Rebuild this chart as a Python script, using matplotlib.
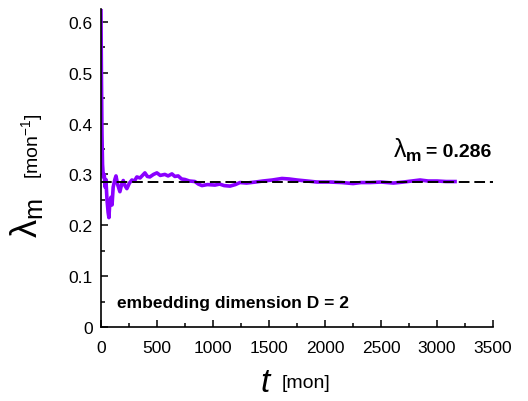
import numpy as np
import matplotlib
matplotlib.use('Agg')
import matplotlib.pyplot as plt
from matplotlib.ticker import MultipleLocator

plt.rc('font', family='Liberation Sans', size=12)
matplotlib.rcParams['mathtext.fontset'] = 'custom'
matplotlib.rcParams['mathtext.rm'] = 'Liberation Sans'
matplotlib.rcParams['mathtext.it'] = 'Liberation Sans:italic'
matplotlib.rcParams['mathtext.bf'] = 'Liberation Sans:bold'

# time [mon] and largest Lyapunov exponent estimate
t = [1, 5, 10, 15, 22, 30, 38, 45, 55, 65, 72, 80, 90, 100, 110, 125, 135,
     150, 170, 185, 200, 215, 232, 255, 277, 300, 321, 350, 393, 415, 437,
     470, 500, 530, 571, 600, 634, 660, 690, 720, 750, 790, 839, 870, 902,
     950, 1018, 1060, 1100, 1152, 1200, 1241, 1300, 1380, 1446, 1530, 1616,
     1680, 1750, 1840, 1929, 2045, 2150, 2250, 2320, 2402, 2500, 2610, 2700,
     2848, 2920, 3000, 3080, 3160]
lam = [0.625, 0.50, 0.38, 0.32, 0.295, 0.30, 0.275, 0.29, 0.25, 0.225,
       0.215, 0.245, 0.255, 0.24, 0.275, 0.29, 0.297, 0.28, 0.266, 0.28,
       0.288, 0.278, 0.272, 0.283, 0.289, 0.287, 0.295, 0.293, 0.303, 0.296,
       0.295, 0.300, 0.303, 0.298, 0.300, 0.297, 0.301, 0.296, 0.297, 0.291,
       0.290, 0.287, 0.286, 0.281, 0.278, 0.280, 0.279, 0.281, 0.278, 0.277,
       0.280, 0.284, 0.283, 0.285, 0.287, 0.289, 0.292, 0.291, 0.289, 0.287,
       0.285, 0.285, 0.284, 0.282, 0.284, 0.284, 0.285, 0.283, 0.285, 0.289,
       0.287, 0.287, 0.286, 0.286]
lam_mean = 0.286

fig = plt.figure(figsize=(5.28, 4.02), dpi=100)
ax = fig.add_axes([0.191, 0.184, 0.743, 0.791])

ax.plot(t, lam, color='#8a00ff', lw=2.6, solid_joinstyle='round', zorder=2)
ax.plot([0, 3500], [lam_mean, lam_mean], 'k--', lw=1.4, dashes=(5.5, 2.5), zorder=3)

ax.set_xlim(0, 3500)
ax.set_ylim(0, 0.625)
ax.xaxis.set_major_locator(MultipleLocator(500))
ax.xaxis.set_minor_locator(MultipleLocator(250))
ax.yaxis.set_minor_locator(MultipleLocator(0.05))
ax.set_yticks([0, 0.1, 0.2, 0.3, 0.4, 0.5, 0.6])
ax.set_yticklabels(['0', '0.1', '0.2', '0.3', '0.4', '0.5', '0.6'])
ax.tick_params(which='both', direction='in', width=1.1, labelsize=12.5)
ax.tick_params(which='major', length=5)
ax.tick_params(axis='x', which='major', pad=9)
ax.tick_params(axis='y', which='major', pad=6)
ax.tick_params(which='minor', length=3)
for s in ['top', 'right']:
    ax.spines[s].set_visible(False)
for s in ['left', 'bottom']:
    ax.spines[s].set_linewidth(1.2)

# axis labels
fig.text(0.051, 0.458, r'$\mathrm{λ}_{\mathrm{m}}$', rotation=90, fontsize=26,
         ha='center', va='center')
fig.text(0.061, 0.637, r'[mon$^{-1}$]', rotation=90, fontsize=14,
         ha='center', va='center')
fig.text(0.505, 0.045, r'$t$', fontsize=24, ha='center', va='center')
fig.text(0.534, 0.045, '[mon]', fontsize=14, ha='left', va='center')

ax.text(2610, 0.335, r'$\mathrm{λ}_{\mathbf{m}}$', fontsize=18)
ax.text(2900, 0.336, '= 0.286', fontsize=14, fontweight='bold')
ax.text(145, 0.04, 'embedding dimension D = 2', fontsize=12.5, fontweight='bold')

plt.savefig('out.png', dpi=100)
